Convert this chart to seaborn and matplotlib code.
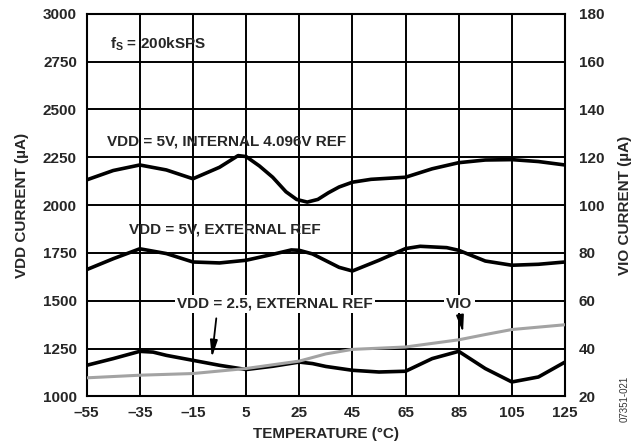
import numpy as np
import pandas as pd
import seaborn as sns
from matplotlib import pyplot as plt

# values (temperature in degC, current in uA)
temp_int = [-55, -45, -35, -25, -15, -5, 2, 5, 10, 15, 20, 24, 28, 32, 36, 40, 45, 52, 65, 75, 85, 95, 105, 115, 125]
vdd_int = [2132, 2181, 2210, 2184, 2138, 2198, 2259, 2254, 2205, 2146, 2070, 2030, 2016, 2030, 2065, 2095, 2120, 2135, 2146, 2190, 2222, 2236, 2238, 2228, 2210]

temp_ext = [-55, -45, -35, -25, -15, -5, 5, 15, 22, 25, 30, 35, 40, 45, 55, 65, 70.5, 80.5, 85, 95, 105, 115, 125]
vdd_ext = [1663, 1720, 1772, 1747, 1703, 1698, 1712, 1743, 1766, 1764, 1745, 1710, 1675, 1656, 1712, 1773, 1785, 1778, 1764, 1708, 1686, 1691, 1703]

temp_25 = [-55, -45, -35, -30, -25, -15, -5, 5, 15, 25, 30, 35, 45, 55, 65, 75, 85, 95, 105, 115, 125]
vdd_25 = [1163, 1198, 1236, 1232, 1215, 1189, 1163, 1141, 1158, 1180, 1172, 1157, 1137, 1128, 1132, 1198, 1236, 1146, 1076, 1102, 1180]

temp_vio = [-55, -35, -15, 5, 25, 35, 45, 65, 85, 95, 105, 125]
vio = [27.8, 28.9, 29.6, 31.7, 34.8, 37.8, 39.7, 40.7, 43.7, 45.9, 48.0, 50.0]

x_ticks = [-55, -35, -15, 5, 25, 45, 65, 85, 105, 125]
y_ticks = [1000, 1250, 1500, 1750, 2000, 2250, 2500, 2750, 3000]
y2_ticks = [20, 40, 60, 80, 100, 120, 140, 160, 180]

sns.set_style('white')
plt.rcParams['font.family'] = ['Liberation Sans', 'DejaVu Sans']
plt.rcParams['font.weight'] = 'bold'
plt.rcParams['mathtext.default'] = 'regular'

FS = 11

fig = plt.figure(figsize=(6.37, 4.46), dpi=100)
ax = fig.add_axes([0.136, 0.111, 0.751, 0.858])

df_int = pd.DataFrame({'temp': temp_int, 'cur': vdd_int})
df_ext = pd.DataFrame({'temp': temp_ext, 'cur': vdd_ext})
df_25 = pd.DataFrame({'temp': temp_25, 'cur': vdd_25})
df_vio = pd.DataFrame({'temp': temp_vio, 'cur': vio})

# grid as line collections at the tick values
ax.hlines(y_ticks, x_ticks[0], x_ticks[-1], colors='black', linewidths=1.4, zorder=3)
ax.vlines(x_ticks, y_ticks[0], y_ticks[-1], colors='black', linewidths=1.4, zorder=3)

for d in (df_int, df_ext, df_25):
    sns.lineplot(x='temp', y='cur', data=d, ax=ax, color='black', lw=2.6, zorder=4)

ax.set_xlim(-55, 125)
ax.set_ylim(1000, 3000)
ax.set_xticks(x_ticks)
ax.set_xticklabels([str(t).replace('-', '\u2013') for t in x_ticks])
ax.set_yticks(y_ticks)
ax.tick_params(length=0, labelsize=FS, pad=7)
for s in ax.spines.values():
    s.set_edgecolor('black')
    s.set_linewidth(1.5)
ax.set_xlabel('TEMPERATURE (°C)', fontsize=FS, fontweight='bold', labelpad=5)
ax.set_ylabel('VDD CURRENT (µA)', fontsize=FS, fontweight='bold', labelpad=10)

ax2 = ax.twinx()
sns.lineplot(x='temp', y='cur', data=df_vio, ax=ax2, color='#a3a3a3', lw=2.2, zorder=2)
ax2.set_ylim(20, 180)
ax2.set_yticks(y2_ticks)
ax2.tick_params(length=0, labelsize=FS, pad=10)
ax2.set_ylabel('VIO CURRENT (µA)', fontsize=FS, fontweight='bold', labelpad=10)
for s in ax2.spines.values():
    s.set_visible(False)

# annotations (placed in VDD axis coordinates)
ax2.text(-46.3, 2840, 'f$_S$ = 200kSPS', transform=ax.transData, fontsize=FS,
         fontweight='bold', va='center', ha='left')
ax2.text(-47.5, 2333, 'VDD = 5V, INTERNAL 4.096V REF', transform=ax.transData,
         fontsize=FS, fontweight='bold', va='center', ha='left')
ax2.text(-39, 1871, 'VDD = 5V, EXTERNAL REF', transform=ax.transData,
         fontsize=FS, fontweight='bold', va='center', ha='left')
ax2.text(-21, 1484, 'VDD = 2.5, EXTERNAL REF', transform=ax.transData,
         fontsize=FS, fontweight='bold', va='center', ha='left', zorder=5,
         bbox=dict(facecolor='white', edgecolor='none', pad=1.5))
ax2.text(85.2, 1484, 'VIO', transform=ax.transData, fontsize=FS,
         fontweight='bold', va='center', ha='center', zorder=5,
         bbox=dict(facecolor='white', edgecolor='none', pad=1.5))

arrow = dict(arrowstyle='-|>,head_length=1.0,head_width=0.22', color='black', lw=1.3)
ax2.annotate('', xy=(-8.0, 1189), xytext=(-6.1, 1423), xycoords=ax.transData,
             textcoords=ax.transData, arrowprops=arrow, zorder=6)
ax2.annotate('', xy=(86.8, 1319), xytext=(85.3, 1441), xycoords=ax.transData,
             textcoords=ax.transData, arrowprops=arrow, zorder=6)

fig.text(0.981, 0.105, '07351-021', rotation=90, fontsize=7, fontweight='normal',
         color='#333333', ha='center', va='center')

fig.savefig('out.png', dpi=100)
